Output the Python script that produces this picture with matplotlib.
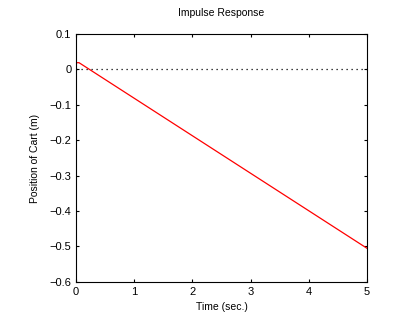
import matplotlib
matplotlib.use('Agg')
import matplotlib.pyplot as plt

# Cart position after an impulse
time = [0, 0.0, 0.05, 5.0]
position = [0, 0.019, 0.019, -0.505]

# Zero reference line
zero_t = [0, 5]
zero_y = [0, 0]

plt.rcParams['font.family'] = ['Liberation Sans', 'DejaVu Sans']
plt.rcParams['font.size'] = 8

fig = plt.figure(figsize=(4.05, 3.24), dpi=100)
ax = fig.add_axes([0.188, 0.130, 0.718, 0.765])

ax.plot(zero_t, zero_y, color='black', linestyle=(0, (1, 3)), linewidth=0.9)
ax.plot(time, position, color='red', linewidth=0.9)

ax.set_xlim(0, 5)
ax.set_ylim(-0.6, 0.1)
ax.set_xticks([0, 1, 2, 3, 4, 5])
ax.set_yticks([-0.6, -0.5, -0.4, -0.3, -0.2, -0.1, 0, 0.1])
ax.set_yticklabels(['\u22120.6', '\u22120.5', '\u22120.4', '\u22120.3',
                    '\u22120.2', '\u22120.1', '0', '0.1'])
ax.tick_params(direction='in', top=True, right=True, length=2.5, width=0.8)
for s in ax.spines.values():
    s.set_linewidth(0.8)

ax.set_title('Impulse Response', fontsize=7.5, pad=13)
ax.set_xlabel('Time (sec.)', fontsize=7.5)
ax.set_ylabel('Position of Cart (m)', fontsize=7.5, labelpad=7)

fig.savefig('out.png', dpi=100)
